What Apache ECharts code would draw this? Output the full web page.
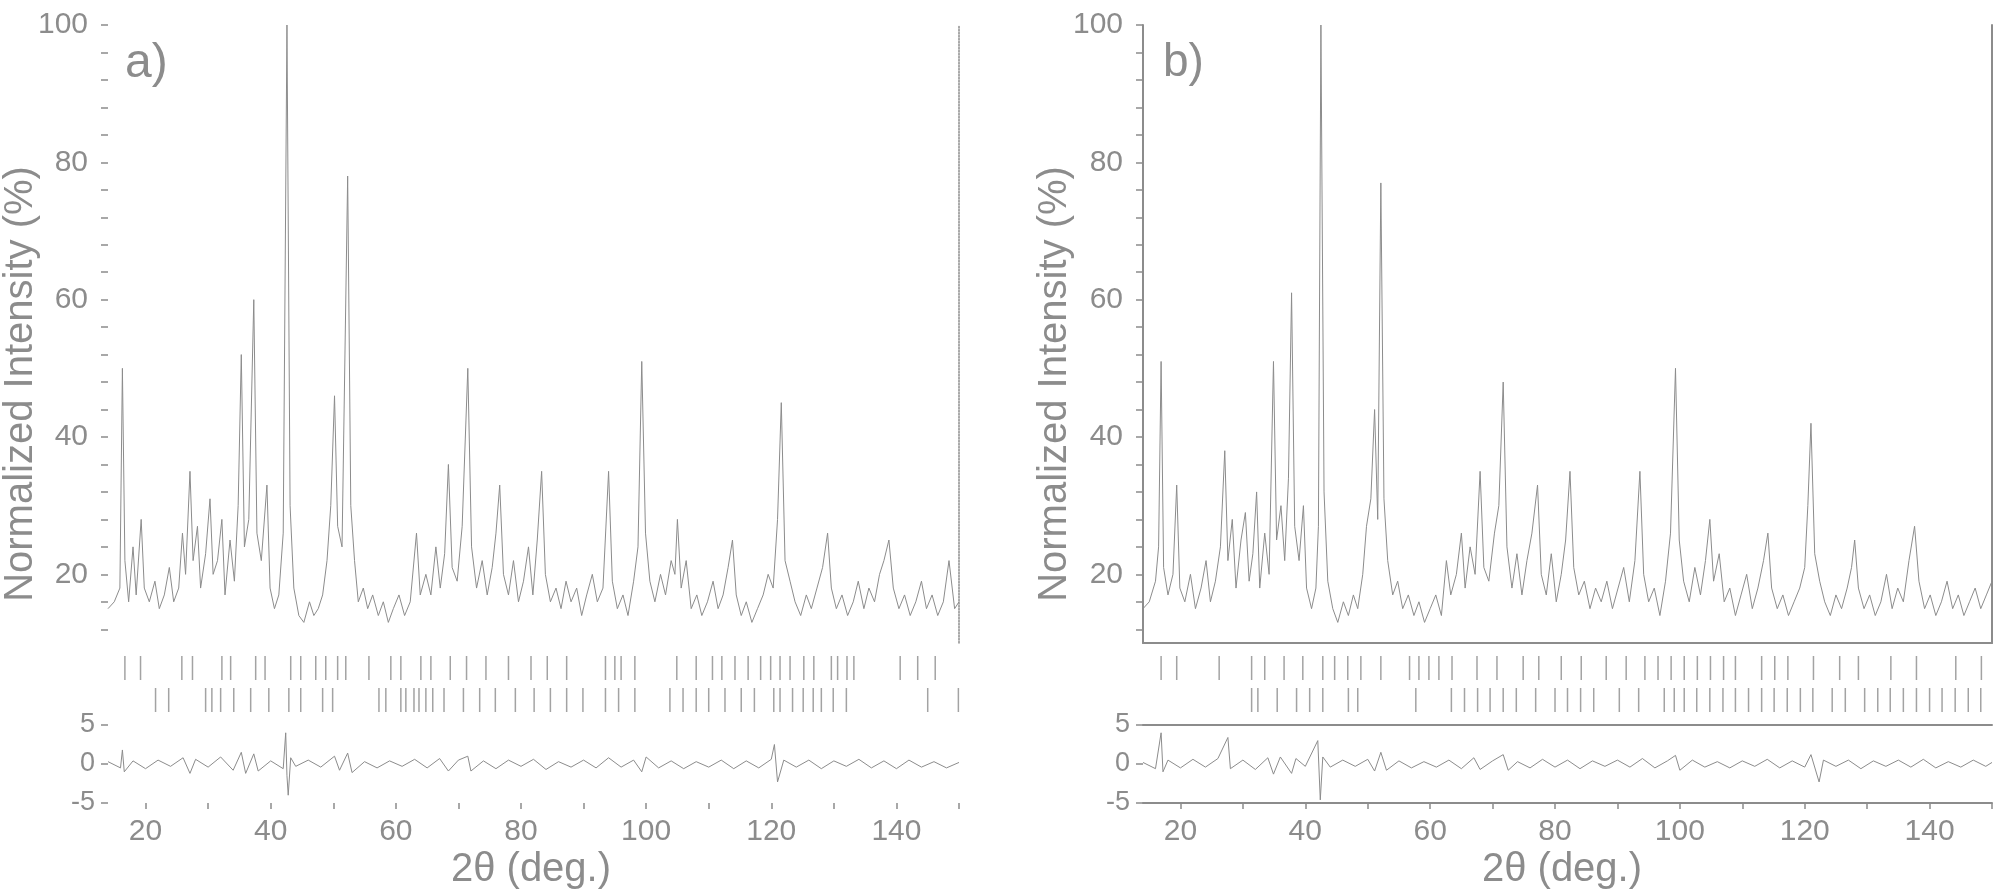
<!DOCTYPE html>
<html><head><meta charset="utf-8">
<script src="https://cdn.jsdelivr.net/npm/echarts@6/dist/echarts.min.js"></script>
<style>html,body{margin:0;padding:0;background:#fff}#c{width:2001px;height:895px}</style>
</head><body><div id="c"></div>
<script>
// ---- data (2θ in degrees, intensity in %) ----
const leftObs = [[14,15],[15,16],[15.9,18],[16.3,50],[16.7,22],[17.3,16],[18.0,24],[18.5,17],[19.3,28],[19.8,18],[20.6,16],[21.5,19],[22.2,15],[23.0,17],[23.8,21],[24.5,16],[25.3,18],[25.9,26],[26.4,20],[27.1,35],[27.6,22],[28.3,27],[28.8,18],[29.6,23],[30.3,31],[30.8,20],[31.5,22],[32.2,28],[32.7,17],[33.5,25],[34.2,19],[34.8,30],[35.3,52],[35.8,24],[36.5,28],[37.3,60],[37.8,26],[38.5,22],[39.4,33],[39.9,18],[40.6,15],[41.3,17],[42.0,26],[42.6,100],[43.1,30],[43.7,18],[44.5,14],[45.3,13],[46.2,16],[46.9,14],[47.6,15],[48.3,17],[49.0,22],[49.6,30],[50.2,46],[50.7,27],[51.4,24],[52.3,78],[52.8,30],[53.4,22],[54.0,16],[54.8,18],[55.5,15],[56.3,17],[57.2,14],[58.0,16],[58.8,13],[59.6,15],[60.5,17],[61.4,14],[62.3,16],[63.3,26],[63.9,17],[64.8,20],[65.6,17],[66.4,24],[67.1,18],[67.8,23],[68.4,36],[69.0,21],[69.8,19],[70.6,27],[71.5,50],[72.1,24],[72.9,18],[73.8,22],[74.6,17],[75.4,21],[76.0,26],[76.6,33],[77.2,20],[78.0,17],[78.8,22],[79.6,16],[80.4,19],[81.2,24],[81.9,17],[82.6,25],[83.3,35],[83.9,20],[84.7,16],[85.6,18],[86.4,15],[87.2,19],[88.0,16],[88.9,18],[89.7,14],[90.5,17],[91.4,20],[92.2,16],[93.1,18],[94.0,35],[94.6,19],[95.4,15],[96.3,17],[97.1,14],[98.0,19],[98.7,24],[99.3,51],[99.9,26],[100.6,19],[101.4,16],[102.3,20],[103.1,17],[104.0,22],[104.6,20],[105.0,28],[105.6,18],[106.4,22],[107.2,15],[108.1,17],[108.9,14],[109.8,16],[110.7,19],[111.5,15],[112.3,17],[113.1,21],[113.8,25],[114.4,17],[115.2,14],[116.0,16],[116.9,13],[117.8,15],[118.7,17],[119.5,20],[120.3,18],[121.0,28],[121.6,45],[122.2,22],[123.0,19],[123.8,16],[124.7,14],[125.6,17],[126.4,15],[127.3,18],[128.2,21],[129.0,26],[129.6,18],[130.4,15],[131.3,17],[132.2,14],[133.1,16],[133.9,19],[134.8,15],[135.6,18],[136.5,16],[137.3,20],[138.0,22],[138.8,25],[139.5,18],[140.4,15],[141.3,17],[142.2,14],[143.1,16],[144.0,19],[144.8,15],[145.7,17],[146.6,14],[147.5,16],[148.4,22],[149.3,15],[150,16]];

const leftDiff = [[14,0.3],[16,-0.5],[16.3,1.8],[16.6,-1.0],[18,0.4],[20,-0.6],[22,0.5],[24,-0.3],[26,0.8],[27.1,-1.2],[28,0.6],[30,-0.4],[32,0.9],[34,-0.8],[35.3,1.5],[36,-1.2],[37.3,1.3],[38,-0.9],[40,0.4],[42,-0.6],[42.4,4.0],[42.6,-1.5],[42.8,-4.0],[43.2,0.8],[44,-0.3],[46,0.5],[48,-0.4],[50.2,1.0],[51,-0.8],[52.3,1.4],[53,-1.1],[55,0.3],[57,-0.5],[59,0.4],[61,-0.3],[63,0.6],[65,-0.5],[67,0.7],[68.4,-0.9],[70,0.5],[71.5,1.0],[72,-0.9],[74,0.4],[76,-0.6],[78,0.5],[80,-0.3],[82,0.6],[84,-0.7],[86,0.3],[88,-0.4],[90,0.5],[92,-0.5],[94,0.8],[96,-0.4],[98,0.5],[99.3,-1.0],[100,0.9],[102,-0.5],[104,0.4],[106,-0.6],[108,0.3],[110,-0.4],[112,0.5],[114,-0.6],[116,0.4],[118,-0.5],[120,0.6],[120.5,2.5],[121,-2.3],[122,0.5],[124,-0.4],[126,0.5],[128,-0.6],[130,0.4],[132,-0.3],[134,0.6],[136,-0.5],[138,0.4],[140,-0.6],[142,0.5],[144,-0.4],[146,0.3],[148,-0.5],[150,0.2]];

const leftBragg1 = [16.7,19.2,25.8,27.5,32.2,33.6,37.6,39.1,43.2,44.8,47.2,48.8,50.7,52.0,55.7,59.2,60.8,64.0,65.6,68.7,71.3,74.4,78.0,81.6,84.2,87.3,93.5,95.0,96.0,98.2,104.9,108.0,110.6,112.1,114.2,116.3,118.3,119.9,121.4,123.0,125.2,126.8,129.6,130.6,132.1,133.2,140.6,143.4,146.2];
const leftBragg2 = [21.6,23.7,29.6,30.6,32.0,34.1,36.8,39.7,42.9,44.8,48.3,49.9,57.3,58.4,60.8,61.6,62.9,63.7,64.8,65.9,67.7,70.8,73.4,75.9,79.1,82.1,84.7,87.3,89.9,93.5,95.6,98.2,103.8,105.9,108.0,110.0,112.6,115.2,117.3,120.4,121.4,123.4,125.1,126.7,128.0,129.9,132.0,145.0,149.9];

const rightObs = [[14,15],[15,16],[16.0,19],[16.5,24],[16.9,51],[17.3,21],[18.0,17],[18.8,20],[19.4,33],[19.9,18],[20.7,16],[21.6,20],[22.4,15],[23.3,18],[24.1,22],[24.8,16],[25.6,19],[26.4,24],[27.1,38],[27.6,22],[28.3,28],[28.9,18],[29.7,25],[30.4,29],[31.0,19],[31.6,23],[32.2,32],[32.7,18],[33.5,26],[34.2,20],[34.9,51],[35.4,25],[36.1,30],[36.7,22],[37.3,34],[37.8,61],[38.3,27],[39.0,22],[39.7,30],[40.2,18],[41.0,15],[41.7,18],[42.1,27],[42.5,100],[43.0,32],[43.6,19],[44.4,15],[45.2,13],[46.1,16],[46.9,14],[47.7,17],[48.4,15],[49.2,20],[49.8,27],[50.5,31],[51.1,44],[51.6,28],[52.1,77],[52.6,31],[53.2,22],[54.0,17],[54.8,19],[55.6,15],[56.5,17],[57.4,14],[58.2,16],[59.1,13],[60.0,15],[60.9,17],[61.8,14],[62.6,22],[63.3,17],[64.2,20],[65.0,26],[65.6,18],[66.4,24],[67.2,20],[68.0,35],[68.6,21],[69.4,19],[70.3,26],[71.0,30],[71.7,48],[72.3,24],[73.1,18],[73.9,23],[74.7,17],[75.5,22],[76.3,26],[77.2,33],[77.8,20],[78.6,17],[79.4,23],[80.2,16],[81.0,20],[81.7,25],[82.4,35],[83.0,21],[83.8,17],[84.7,19],[85.6,15],[86.5,18],[87.4,16],[88.3,19],[89.2,15],[90.1,18],[91.0,21],[91.9,16],[92.8,22],[93.6,35],[94.2,20],[95.0,16],[95.9,18],[96.8,14],[97.7,19],[98.5,26],[99.3,50],[99.9,25],[100.6,19],[101.5,16],[102.4,21],[103.3,17],[104.1,22],[104.8,28],[105.4,19],[106.3,23],[107.1,16],[108.0,18],[108.9,14],[109.8,17],[110.7,20],[111.6,15],[112.5,18],[113.4,22],[114.1,26],[114.7,18],[115.6,15],[116.5,17],[117.4,14],[118.3,16],[119.2,18],[120.0,21],[120.5,30],[121.0,42],[121.6,23],[122.4,19],[123.2,16],[124.1,14],[125.0,17],[125.9,15],[126.8,18],[127.5,21],[128.0,25],[128.6,18],[129.5,15],[130.4,17],[131.3,14],[132.2,16],[133.1,20],[134.0,15],[134.9,18],[135.8,16],[136.7,22],[137.6,27],[138.3,19],[139.2,15],[140.1,17],[141.0,14],[141.9,16],[142.8,19],[143.7,15],[144.6,17],[145.5,14],[146.4,16],[147.3,18],[148.2,15],[149.1,17],[150,19]];

const rightDiff = [[14,0.2],[16,-0.6],[16.9,4.0],[17.2,-1.0],[18,0.5],[20,-0.5],[22,0.6],[24,-0.4],[26,0.7],[27.6,3.4],[28,-0.6],[30,0.5],[32,-0.7],[34,0.8],[34.9,-1.3],[36,0.9],[37.8,-1.2],[38.5,0.7],[40,-0.3],[42.0,3.0],[42.4,-4.6],[42.8,0.9],[44,-0.4],[46,0.5],[48,-0.3],[50,0.6],[51.1,-0.9],[52.1,1.5],[53,-0.8],[55,0.4],[57,-0.5],[59,0.3],[61,-0.4],[63,0.5],[65,-0.6],[67,0.8],[68,-0.7],[70,0.4],[71.7,1.2],[72.5,-0.8],[74,0.3],[76,-0.5],[78,0.6],[80,-0.4],[82,0.5],[84,-0.6],[86,0.4],[88,-0.3],[90,0.5],[92,-0.4],[94,0.7],[96,-0.5],[98,0.4],[99.3,1.1],[100,-0.8],[102,0.5],[104,-0.4],[106,0.3],[108,-0.5],[110,0.4],[112,-0.3],[114,0.6],[116,-0.5],[118,0.4],[120,-0.4],[121,1.2],[122.3,-2.3],[123,0.5],[125,-0.3],[127,0.5],[129,-0.6],[131,0.4],[133,-0.3],[135,0.5],[137,-0.4],[139,0.6],[141,-0.5],[143,0.3],[145,-0.4],[147,0.5],[149,-0.3],[150,0.2]];

const rightBragg1 = [16.9,19.4,26.2,31.4,33.5,36.6,39.6,42.8,44.7,46.8,48.9,52.1,56.7,58.2,59.8,61.4,63.5,67.5,70.7,74.9,77.4,81.0,84.2,88.2,91.4,94.4,96.5,98.6,100.7,102.8,104.9,107.0,108.9,113.1,115.2,117.3,121.4,125.6,128.6,133.8,137.9,144.2,148.3];
const rightBragg2 = [31.4,32.4,35.5,38.6,40.7,42.8,46.9,48.4,57.7,63.4,65.5,67.6,69.6,71.7,73.8,76.9,80.0,82.0,84.1,86.2,90.3,93.4,97.5,99.1,100.7,102.7,104.8,106.9,108.9,111.0,113.1,115.1,117.2,119.3,121.3,124.4,126.5,129.6,131.7,133.7,135.8,137.9,140.0,142.0,144.1,146.2,148.2];

// tick / label values
const xTickVals = [20,30,40,50,60,70,80,90,100,110,120,130,140,150];
const xLabelVals = [20,40,60,80,100,120,140];
const yTickVals = [12,16,20,24,28,32,36,40,44,48,52,56,60,64,68,72,76,80,84,88,92,96,100];
const yLabelVals = [20,40,60,80,100];
const dVals = [-5,0,5];
const panelLabels = ['a)','b)'];
const yName = 'Normalized Intensity (%)';
const xName = '2\u03b8 (deg.)';

// ---- chart ----
const GRAY = '#8c8c8c';
const FONT = 'Liberation Sans';
const chart = echarts.init(document.getElementById('c'), null, {renderer:'canvas'});

const P = [{left:108, width:851, diffTop:725, diffH:78, boxed:false},
           {left:1143, width:849, diffTop:725, diffH:78, boxed:true}];
const grids=[], xAxes=[], yAxes=[], series=[];
const obs=[leftObs,rightObs], diffs=[leftDiff,rightDiff], b1=[leftBragg1,rightBragg1], b2=[leftBragg2,rightBragg2];

P.forEach((p,k)=>{
  const g0 = grids.length;
  grids.push({left:p.left, width:p.width, top:25, height:618});
  grids.push({left:p.left, width:p.width, top:652, height:64});
  grids.push({left:p.left, width:p.width, top:p.diffTop, height:p.diffH});
  // main
  xAxes.push({gridIndex:g0, type:'value', min:14, max:150,
    axisLine:{show:p.boxed, onZero:false, lineStyle:{color:GRAY,width:2}},
    axisTick:{show:false}, axisLabel:{show:false}, splitLine:{show:false}});
  const yMain = yAxes.length;
  yAxes.push({gridIndex:g0, type:'value', min:10, max:100,
    axisLine:{show:p.boxed, lineStyle:{color:GRAY,width:2}},
    axisTick:{show:true, length:7, customValues:yTickVals, lineStyle:{color:GRAY,width:1.5}},
    axisLabel:{show:true, customValues:yLabelVals, margin:20, color:GRAY, fontSize:30, fontFamily:FONT},
    splitLine:{show:false}});
  yAxes.push({gridIndex:g0, type:'value', min:10, max:100, position:'right',
    axisLine:{show:true, lineStyle:{color:GRAY,width:p.boxed?2:1.5,type:p.boxed?'solid':'dotted'}},
    axisTick:{show:false}, axisLabel:{show:false}, splitLine:{show:false}});
  const xMain = xAxes.length-1;
  series.push({type:'line', xAxisIndex:xMain, yAxisIndex:yMain, data:obs[k], showSymbol:false,
    lineStyle:{color:GRAY,width:1}, animation:false});
  // bragg
  xAxes.push({gridIndex:g0+1, type:'value', min:14, max:150, show:false});
  yAxes.push({gridIndex:g0+1, type:'value', min:0, max:2, show:false});
  const xb = xAxes.length-1, yb = yAxes.length-1;
  series.push({type:'scatter', xAxisIndex:xb, yAxisIndex:yb, symbol:'rect', symbolSize:[1.5,24],
    itemStyle:{color:GRAY}, data:b1[k].map(v=>[v,1.5]), animation:false});
  series.push({type:'scatter', xAxisIndex:xb, yAxisIndex:yb, symbol:'rect', symbolSize:[1.5,24],
    itemStyle:{color:GRAY}, data:b2[k].map(v=>[v,0.5]), animation:false});
  // diff
  xAxes.push({gridIndex:g0+2, type:'value', min:14, max:150,
    axisLine:{show:p.boxed, onZero:false, lineStyle:{color:GRAY,width:2}},
    axisTick:{show:true, length:6, customValues:xTickVals, lineStyle:{color:GRAY,width:1.5}},
    axisLabel:{show:true, customValues:xLabelVals, margin:14, color:GRAY, fontSize:30, fontFamily:FONT},
    splitLine:{show:false}});
  const xd = xAxes.length-1;
  if (p.boxed) xAxes.push({gridIndex:g0+2, type:'value', min:14, max:150, position:'top',
    axisLine:{show:true, onZero:false, lineStyle:{color:GRAY,width:2}},
    axisTick:{show:false}, axisLabel:{show:false}, splitLine:{show:false}});
  yAxes.push({gridIndex:g0+2, type:'value', min:-5, max:5,
    axisLine:{show:false},
    axisTick:{show:true, length:7, customValues:dVals, lineStyle:{color:GRAY,width:1.5}},
    axisLabel:{show:true, customValues:dVals, margin:13, color:GRAY, fontSize:27, fontFamily:FONT},
    splitLine:{show:false}});
  const yd = yAxes.length-1;
  series.push({type:'line', xAxisIndex:xd, yAxisIndex:yd, data:diffs[k], showSymbol:false,
    lineStyle:{color:GRAY,width:1}, animation:false});
});

const graphic = [
  {type:'text', x:125, y:40, style:{text:panelLabels[0], font:'48px '+FONT, fill:GRAY, textVerticalAlign:'top'}},
  {type:'text', x:1163, y:40, style:{text:panelLabels[1], font:'46px '+FONT, fill:GRAY, textVerticalAlign:'top'}},
  {type:'text', x:21, y:384, rotation:Math.PI/2, style:{text:yName, font:'40px '+FONT, fill:GRAY, textAlign:'center', textVerticalAlign:'middle'}},
  {type:'text', x:1055, y:384, rotation:Math.PI/2, style:{text:yName, font:'40px '+FONT, fill:GRAY, textAlign:'center', textVerticalAlign:'middle'}},
  {type:'text', x:531, y:870, style:{text:xName, font:'40px '+FONT, fill:GRAY, textAlign:'center', textVerticalAlign:'middle'}},
  {type:'text', x:1562, y:870, style:{text:xName, font:'40px '+FONT, fill:GRAY, textAlign:'center', textVerticalAlign:'middle'}}
];

chart.setOption({animation:false, backgroundColor:'#fff', grid:grids, xAxis:xAxes, yAxis:yAxes, series:series, graphic:graphic});
</script></body></html>
